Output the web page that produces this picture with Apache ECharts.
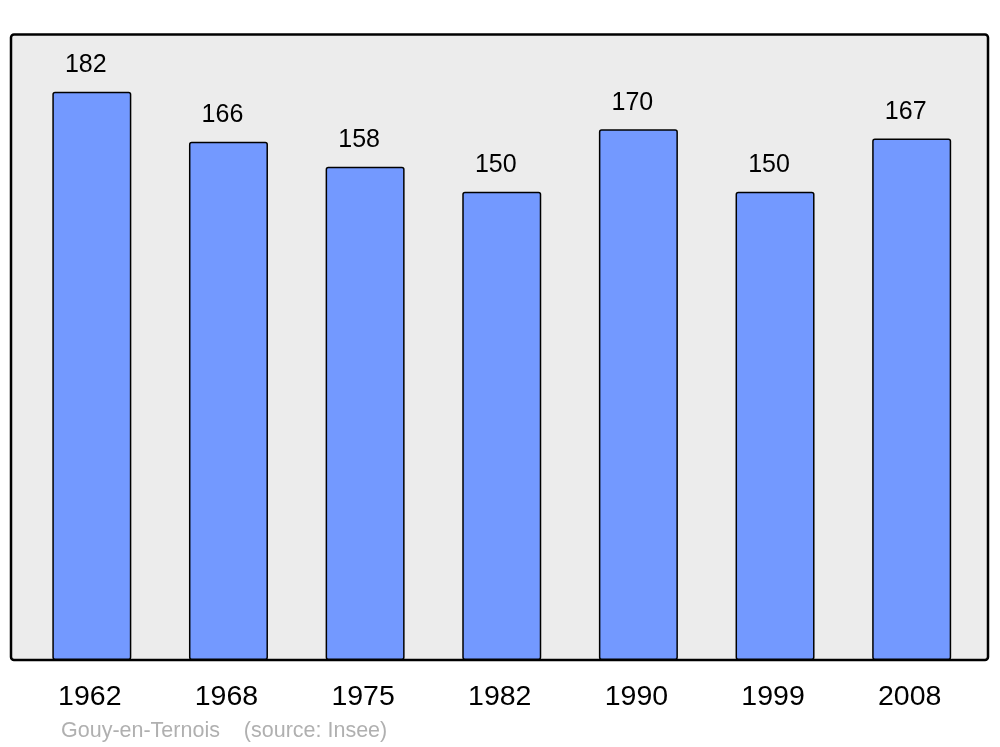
<!DOCTYPE html>
<html>
<head>
<meta charset="utf-8">
<script src="https://cdn.jsdelivr.net/npm/echarts@6/dist/echarts.min.js"></script>
<style>html,body{margin:0;padding:0;background:#fff}#c{width:1000px;height:747px}</style>
</head>
<body>
<div id="c"></div>
<script>
const years = ['1962','1968','1975','1982','1990','1999','2008'];
const population = [182,166,158,150,170,150,167];
const sourceText = 'Gouy-en-Ternois    (source: Insee)';

const chart = echarts.init(document.getElementById('c'), null, {renderer:'canvas'});
chart.setOption({
  animation:false,
  backgroundColor:'#ffffff',
  graphic:[
    {type:'rect', z:-10, shape:{x:11,y:34.5,width:977,height:625.5,r:3},
     style:{fill:'#ececec', stroke:'#000', lineWidth:2.5}},
    {type:'text', left:61, top:720, z:10,
     style:{text:sourceText, fill:'#b0b0b0', font:'21.5px "Liberation Sans", Arial, sans-serif'}}
  ],
  grid:{left:23.5, right:20, top:35.5, bottom:87},
  xAxis:{type:'category', data:years,
    axisLine:{show:false}, axisTick:{show:false},
    axisLabel:{color:'#000', fontSize:28.5, fontFamily:'Liberation Sans', margin:23, padding:[0,4,0,0]}},
  yAxis:{type:'value', min:0, max:200, show:false, splitLine:{show:false}},
  series:[{type:'bar', data:population, barWidth:79,
    itemStyle:{color:'#7399ff', borderColor:'#000', borderWidth:1.5, borderRadius:2},
    label:{show:true, position:'top', distance:14, offset:[-6,0], color:'#000', fontSize:25, fontFamily:'Liberation Sans'}
  }]
});
</script>
</body>
</html>
